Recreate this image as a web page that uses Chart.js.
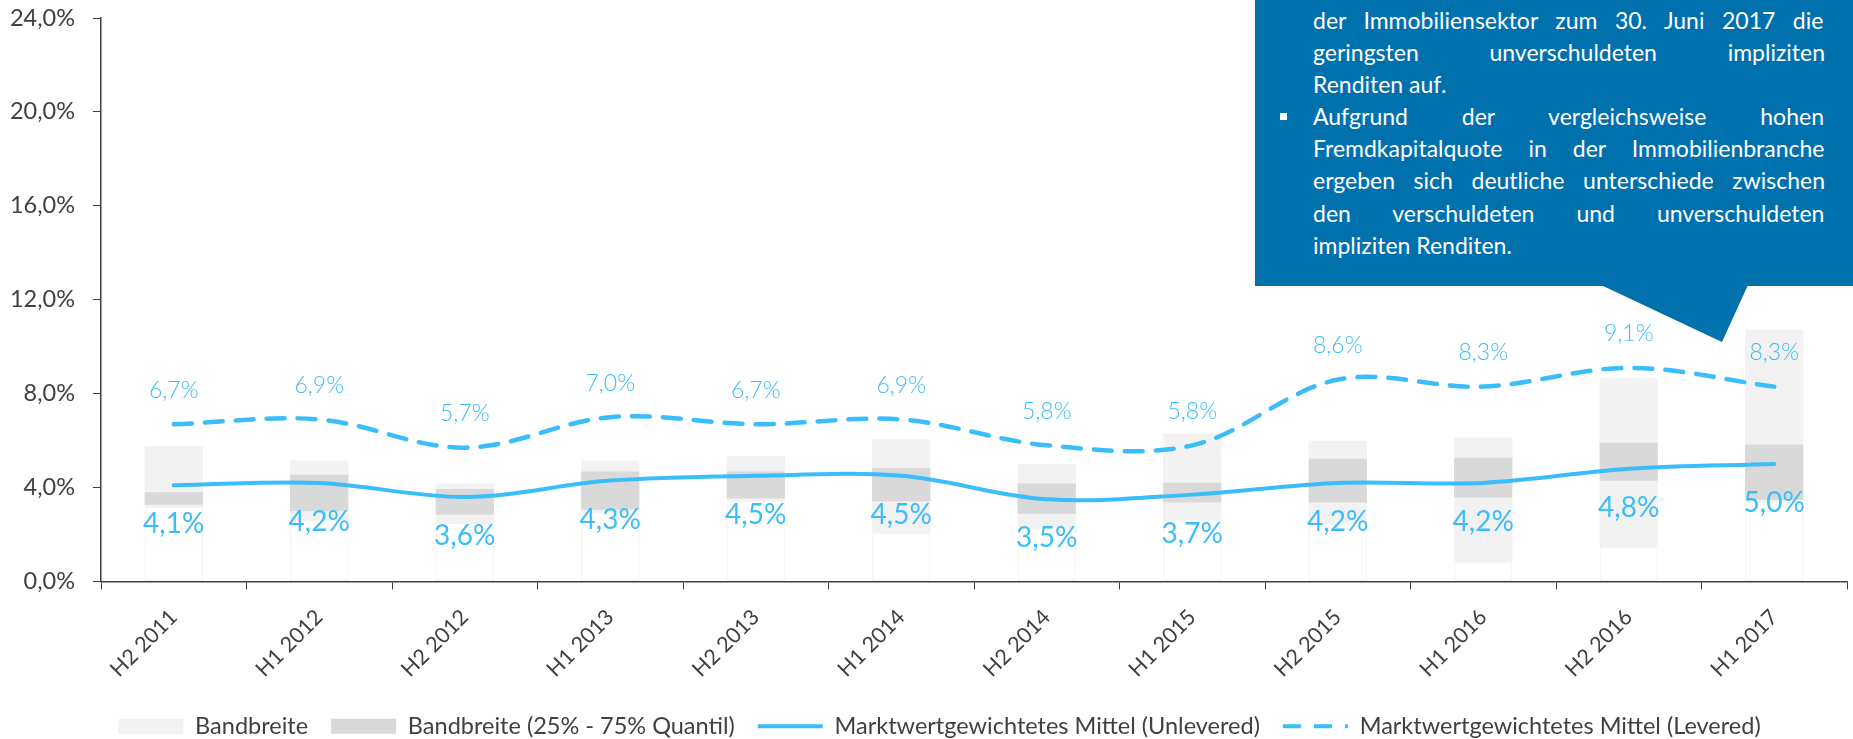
<!DOCTYPE html>
<html>
<head>
<meta charset="utf-8">
<script src="https://cdn.jsdelivr.net/npm/chart.js@4/dist/chart.umd.min.js"></script>
<style>
html,body{margin:0;padding:0;background:#fff;overflow:hidden}
#wrap{position:relative;width:1853px;height:739px;overflow:hidden}
#c{position:absolute;left:0;top:0}
#box{position:absolute;left:1255px;top:-20px;width:598px;height:306px;background:#0071AD}
#tri{position:absolute;left:0;top:0}
#ctext{position:absolute;left:1313px;top:4px;width:512px;color:#fff;font-family:Lato,sans-serif}
#ctext div{white-space:nowrap;height:32.1px;line-height:32.1px}
#bullet{position:absolute;left:1280px;top:113px;width:7px;height:7px;background:#fff}
</style>
</head>
<body>
<div id="wrap">
<canvas id="c" width="1853" height="739"></canvas>
<div id="box"></div>
<svg id="tri" width="1853" height="739"><polygon points="1601,285 1748,285 1722,342" fill="#0071AD"/></svg>
<div id="bullet"></div>
<div id="ctext">
<div class="j">der Immobiliensektor zum 30. Juni 2017 die</div>
<div class="j">geringsten unverschuldeten impliziten</div>
<div>Renditen auf.</div>
<div class="j">Aufgrund der vergleichsweise hohen</div>
<div class="j">Fremdkapitalquote in der Immobilienbranche</div>
<div class="j">ergeben sich deutliche unterschiede zwischen</div>
<div class="j">den verschuldeten und unverschuldeten</div>
<div>impliziten Renditen.</div>
</div>
</div>
<script>
// ---- data ----
const categories = ['H2 2011','H1 2012','H2 2012','H1 2013','H2 2013','H1 2014','H2 2014','H1 2015','H2 2015','H1 2016','H2 2016','H1 2017'];
const rangeMin = [3.17, 2.62, 2.49, 2.94, 3.44, 2.06, 2.28, 2.60, 2.49, 0.81, 1.45, 3.38];
const rangeMax = [5.76, 5.15, 4.17, 5.15, 5.35, 6.06, 5.02, 6.30, 6.00, 6.13, 8.66, 10.72];
const q25 = [3.27, 2.99, 2.84, 3.06, 3.53, 3.41, 2.89, 3.37, 3.37, 3.58, 4.29, 3.48];
const q75 = [3.80, 4.55, 3.94, 4.69, 4.69, 4.83, 4.17, 4.21, 5.23, 5.27, 5.91, 5.83];
const unlevered = [4.1, 4.2, 3.6, 4.3, 4.5, 4.5, 3.5, 3.7, 4.2, 4.2, 4.8, 5.0];
const levered = [6.7, 6.9, 5.7, 7.0, 6.7, 6.9, 5.8, 5.8, 8.6, 8.3, 9.1, 8.3];
const yTickLabels = ['0,0%','4,0%','8,0%','12,0%','16,0%','20,0%','24,0%'];
const seriesNames = ['Bandbreite','Bandbreite (25% - 75% Quantil)','Marktwertgewichtetes Mittel (Unlevered)','Marktwertgewichtetes Mittel (Levered)'];

// ---- callout justification ----
(function(){
  const fsBase = 23;
  const mc = document.createElement('canvas').getContext('2d');
  const lines = Array.from(document.querySelectorAll('#ctext div'));
  let fs = fsBase;
  lines.forEach(l => {
    mc.font = fsBase + 'px Lato';
    const w = mc.measureText(l.textContent).width;
    if (l.classList.contains('j') && w > 505) fs = Math.min(fs, fsBase * 505 / w);
  });
  document.getElementById('ctext').style.fontSize = fs + 'px';
  mc.font = fs + 'px Lato';
  lines.forEach(l => {
    if (!l.classList.contains('j')) return;
    const t = l.textContent;
    const w = mc.measureText(t).width;
    const n = (t.match(/ /g) || []).length;
    if (n > 0) l.style.wordSpacing = ((512 - w) / n) + 'px';
  });
})();

const BLUE = '#3BBDF9';
const TXT = '#404040';
const fmt = v => v.toFixed(1).replace('.', ',') + '%';

const labelPlugin = {
  id: 'valueLabels',
  afterLayout(chart) {
    if (chart.legend) { chart.legend.left = 32; }
  },
  afterDatasetsDraw(chart) {
    const ctx = chart.ctx;
    ctx.save();
    ctx.fillStyle = BLUE;
    ctx.textAlign = 'center';
    ctx.textBaseline = 'middle';
    ctx.font = '400 28px Lato';
    chart.getDatasetMeta(2).data.forEach((pt, i) => ctx.fillText(fmt(unlevered[i]), pt.x, pt.y + 39));
    ctx.font = '300 23px Lato';
    chart.getDatasetMeta(3).data.forEach((pt, i) => ctx.fillText(fmt(levered[i]), pt.x, pt.y - 34));
    ctx.restore();
  }
};

Chart.defaults.font.family = 'Lato';

new Chart(document.getElementById('c'), {
  type: 'bar',
  data: {
    labels: categories,
    datasets: [
      { label: seriesNames[0], data: categories.map((_, i) => [rangeMin[i], rangeMax[i]]),
        backgroundColor: '#F2F2F2', borderWidth: 0, grouped: false, order: 3,
        barPercentage: 0.4, categoryPercentage: 1, pointStyle: 'rect' },
      { label: seriesNames[1], data: categories.map((_, i) => [q25[i], q75[i]]),
        backgroundColor: '#D9D9D9', borderWidth: 0, grouped: false, order: 2,
        barPercentage: 0.4, categoryPercentage: 1, pointStyle: 'rect' },
      { type: 'line', label: seriesNames[2], data: unlevered, borderColor: BLUE, backgroundColor: BLUE,
        borderWidth: 4, tension: 0.35, pointRadius: 0, order: 1, pointStyle: 'line', borderCapStyle: 'round' },
      { type: 'line', label: seriesNames[3], data: levered, borderColor: BLUE, backgroundColor: BLUE,
        borderWidth: 4.5, borderDash: [18, 13], borderCapStyle: 'round', tension: 0.35, pointRadius: 0, order: 0, pointStyle: 'line' },
      { label: 'base', data: categories.map((_, i) => [0, rangeMin[i]]),
        backgroundColor: 'rgba(255,255,255,0)', borderColor: '#F2F2F2', borderWidth: 1, borderSkipped: false,
        grouped: false, order: 4, barPercentage: 0.4, categoryPercentage: 1 }
    ]
  },
  options: {
    responsive: false,
    animation: false,
    devicePixelRatio: 1,
    layout: { padding: { left: 0, right: 6, top: 18, bottom: -9 } },
    plugins: {
      legend: {
        position: 'bottom',
        labels: {
          usePointStyle: true, pointStyleWidth: 65, boxHeight: 15,
          color: TXT, font: { family: 'Lato', size: 23.5 }, padding: 23,
          filter: it => it.datasetIndex < 4,
          sort: (a, b) => a.datasetIndex - b.datasetIndex,
          generateLabels: chart => {
            const items = Chart.defaults.plugins.legend.labels.generateLabels(chart);
            items.forEach(it => {
              const ds = chart.data.datasets[it.datasetIndex];
              if (ds.type === 'line') {
                it.lineDash = ds.borderDash || [];
                it.lineWidth = 4;
                it.strokeStyle = ds.borderColor;
                it.lineCap = 'butt';
              }
            });
            return items;
          }
        }
      },
      tooltip: { enabled: false }
    },
    scales: {
      x: {
        grid: { drawOnChartArea: false, drawTicks: true, tickLength: 8, color: TXT, offset: true },
        border: { color: TXT, width: 1.5 },
        ticks: { color: TXT, font: { family: 'Lato', size: 21.5 }, minRotation: 45, maxRotation: 45, padding: 15, autoSkip: false },
        afterFit: s => { s.height = 110; }
      },
      y: {
        min: 0, max: 24,
        ticks: { stepSize: 4, color: TXT, font: { family: 'Lato', size: 23.5 }, padding: 18,
                 callback: (v, i) => yTickLabels[i] },
        grid: { drawOnChartArea: false, drawTicks: true, tickLength: 8, color: TXT },
        border: { color: TXT, width: 1.5 },
        afterFit: s => { s.width = 101; s.paddingTop = 0; }
      }
    }
  },
  plugins: [labelPlugin]
});
</script>
</body>
</html>
